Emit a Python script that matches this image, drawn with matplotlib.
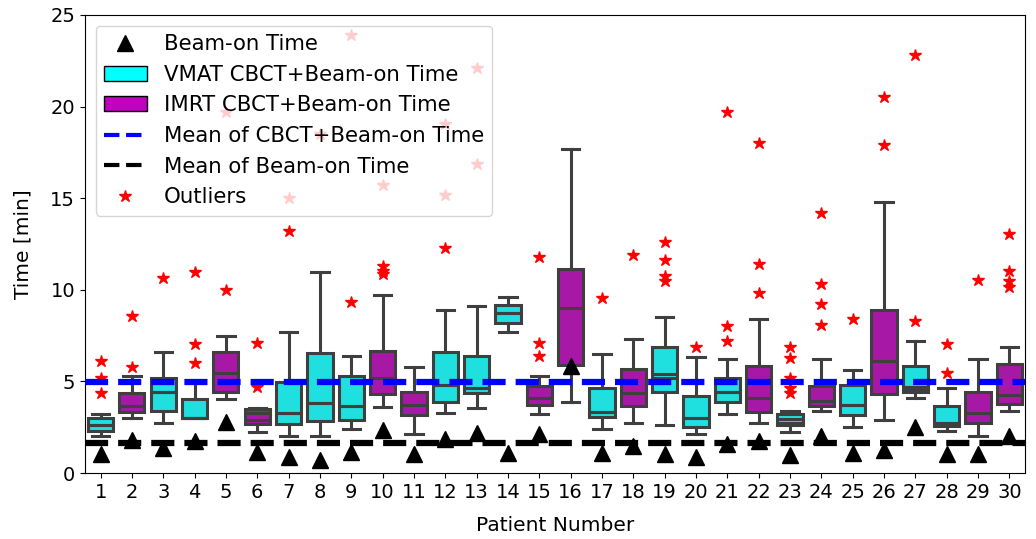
import matplotlib
matplotlib.use('Agg')
import matplotlib.pyplot as plt
from matplotlib.lines import Line2D
from matplotlib.patches import Patch

# data (minutes)
patients = list(range(1, 31))
plan = ['V', 'I', 'V', 'V', 'I', 'I', 'V', 'V', 'V', 'I',
        'I', 'V', 'V', 'V', 'I', 'I', 'V', 'I', 'V', 'V',
        'V', 'I', 'V', 'I', 'V', 'I', 'V', 'V', 'I', 'I']
q1 = [2.29, 3.35, 3.40, 2.98, 4.44, 2.65, 2.66, 2.84, 2.89, 4.31,
      3.17, 3.86, 4.35, 8.17, 3.71, 5.90, 3.07, 3.68, 4.40, 2.53,
      3.89, 3.35, 2.62, 3.68, 3.17, 4.29, 4.44, 2.57, 2.71, 3.77]
med = [2.62, 3.68, 4.44, 2.98, 5.44, 3.29, 3.29, 3.80, 3.66, 5.17,
       3.71, 4.80, 4.62, 8.72, 4.08, 8.99, 3.35, 4.35, 5.42, 3.02,
       4.44, 4.08, 2.75, 3.95, 3.71, 6.11, 4.71, 2.75, 3.26, 4.26]
# second inner line visible in a few boxes
inner = [2.62, 3.68, 4.44, 2.98, 5.44, 2.89, 3.29, 3.80, 3.66, 5.17,
         3.71, 4.80, 4.62, 8.72, 4.08, 8.99, 3.35, 4.35, 5.20, 3.02,
         4.44, 4.08, 2.93, 3.95, 3.71, 6.11, 4.59, 2.75, 3.26, 4.26]
q3 = [2.98, 4.35, 5.20, 4.02, 6.62, 3.50, 4.95, 6.57, 5.29, 6.66,
      4.40, 6.62, 6.40, 9.17, 4.75, 11.14, 4.66, 5.68, 6.88, 4.22,
      5.17, 5.84, 3.20, 4.75, 4.80, 8.90, 5.86, 3.68, 4.40, 5.95]
wlo = [2.02, 3.02, 2.71, 2.98, 4.02, 2.22, 2.02, 2.02, 2.40, 3.62,
       2.11, 3.29, 3.53, 7.71, 3.22, 3.89, 2.40, 2.71, 2.62, 2.11,
       3.22, 2.71, 2.22, 3.40, 2.53, 2.89, 4.08, 2.29, 2.02, 3.40]
whi = [3.22, 5.31, 6.59, 4.90, 7.50, 3.55, 7.71, 10.99, 6.41, 9.72,
       5.80, 8.90, 9.12, 9.62, 5.31, 17.69, 6.50, 7.30, 8.50, 6.31,
       6.22, 8.41, 3.40, 6.22, 5.62, 14.80, 7.22, 4.66, 6.22, 6.90]
beam_on = [1.04, 1.80, 1.35, 1.77, 2.80, 1.16, 0.86, 0.71, 1.13, 2.35,
           1.04, 1.86, 2.17, 1.07, 2.13, 5.86, 1.07, 1.49, 1.04, 0.90,
           1.58, 1.77, 0.98, 2.04, 1.07, 1.27, 2.51, 1.05, 1.02, 2.04]
outliers = [[6.11, 5.17, 4.38], [8.59, 5.80], [10.63], [10.99, 7.02, 6.00],
            [9.99, 19.7], [7.11, 4.71], [13.2, 15.0], [18.5],
            [9.32, 23.9], [11.3, 11.05, 10.85, 15.7], [],
            [12.3, 15.2, 19.05], [16.85, 22.1], [], [7.08, 6.41, 11.8], [],
            [9.53], [11.9], [12.59, 11.63, 10.75, 10.5], [6.9],
            [8.02, 7.22, 19.7], [11.41, 9.81, 18.0],
            [6.9, 6.3, 5.17, 4.62, 4.35], [10.32, 9.21, 8.08, 14.2], [8.41],
            [17.9, 20.5], [8.31, 22.8], [7.02, 5.44], [10.52],
            [13.03, 11.03, 10.48, 10.17]]
mean_total = 4.98
mean_beam = 1.65

vmat_col = '#20dfdf'
imrt_col = '#a718a7'
edge = '#3f3f3f'

fig = plt.figure(figsize=(10.36, 5.39), dpi=100)
ax = fig.add_axes([0.082, 0.1224, 0.9074, 0.8498])

stats = []
for i in range(len(patients)):
    stats.append({'q1': q1[i], 'med': med[i], 'q3': q3[i],
                  'whislo': wlo[i], 'whishi': whi[i],
                  'mean': inner[i], 'fliers': []})

bp = ax.bxp(stats, positions=patients, widths=0.8, capwidths=0.56,
            patch_artist=True, showfliers=False, showmeans=True, meanline=True,
            boxprops=dict(edgecolor=edge, linewidth=2.2),
            whiskerprops=dict(color=edge, linewidth=2.2),
            capprops=dict(color=edge, linewidth=2.2),
            medianprops=dict(color=edge, linewidth=2.2),
            meanprops=dict(color=edge, linewidth=2.2, linestyle='-'))
for box, p in zip(bp['boxes'], plan):
    box.set_facecolor(vmat_col if p == 'V' else imrt_col)

for x, vals in zip(patients, outliers):
    ax.plot([x] * len(vals), vals, '*', color='red', markersize=9, zorder=4)

ax.plot(patients, beam_on, '^', color='black', markersize=12, zorder=5)
ax.axhline(mean_total, color='blue', linestyle='--', linewidth=4.5, zorder=6)
ax.axhline(mean_beam, color='black', linestyle='--', linewidth=4.5, zorder=6)

ax.set_xlim(0.5, 30.5)
ax.set_ylim(0, 25)
ax.set_xticks(patients)
ax.set_xticklabels([str(p) for p in patients])
ax.set_yticks([0, 5, 10, 15, 20, 25])
ax.tick_params(labelsize=14)
ax.set_xlabel('Patient Number', fontsize=14.5, labelpad=10)
ax.set_ylabel('Time [min]', fontsize=14.5, labelpad=13)

handles = [Line2D([], [], marker='^', color='black', linestyle='None', markersize=12),
           Patch(facecolor='cyan', edgecolor='black'),
           Patch(facecolor='m', edgecolor='black'),
           Line2D([], [], color='blue', linestyle='--', linewidth=3),
           Line2D([], [], color='black', linestyle='--', linewidth=3),
           Line2D([], [], marker='*', color='red', linestyle='None', markersize=9)]
labels = ['Beam-on Time', 'VMAT CBCT+Beam-on Time', 'IMRT CBCT+Beam-on Time',
          'Mean of CBCT+Beam-on Time', 'Mean of Beam-on Time', 'Outliers']
leg = ax.legend(handles, labels, loc='upper left', fontsize=15.3)
leg.set_zorder(10)

fig.savefig('out.png', dpi=100)
